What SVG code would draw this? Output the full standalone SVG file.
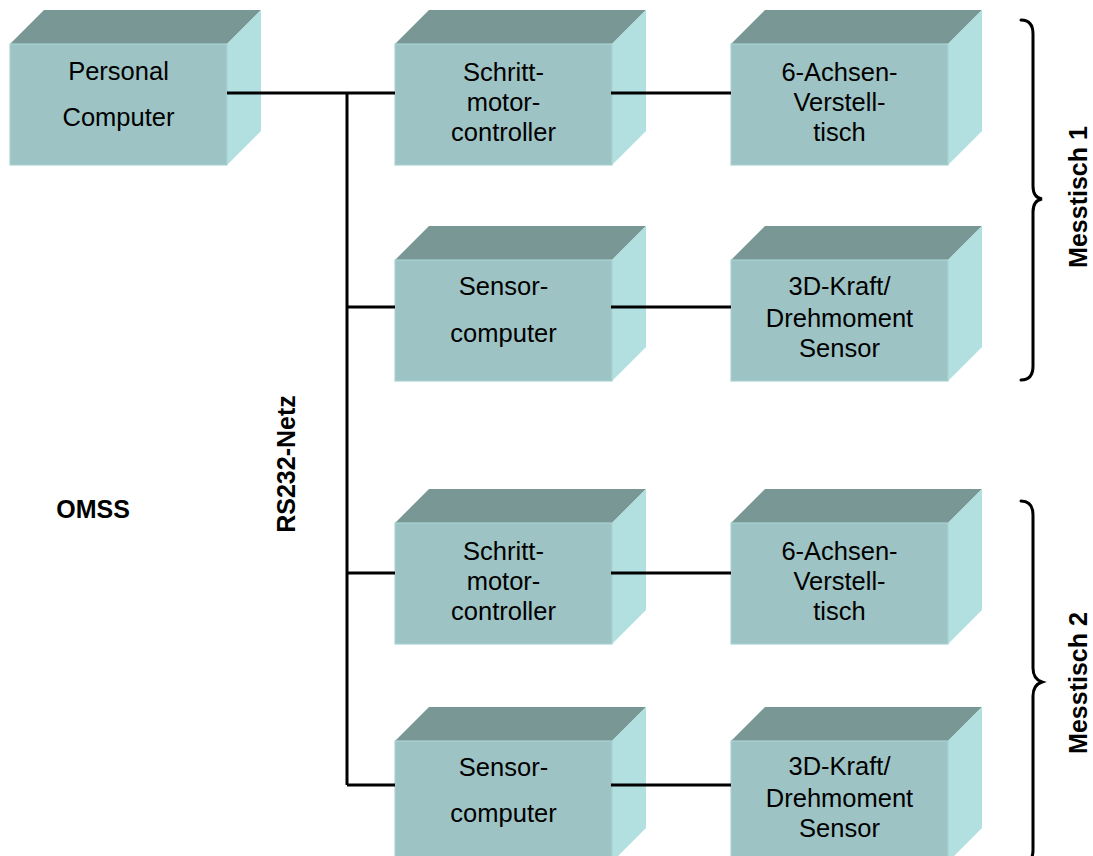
<svg xmlns="http://www.w3.org/2000/svg" width="1093" height="856" viewBox="0 0 1093 856">
<style>
.front{fill:#9dc3c4;stroke:#a9d2d2;stroke-width:1.2}
.top{fill:#799795}
.side{fill:#b2e0e0}
.t{font-family:"Liberation Sans",Arial,sans-serif;font-size:25.5px;fill:#000;text-anchor:middle}
.b{font-family:"Liberation Sans",Arial,sans-serif;font-size:25px;font-weight:bold;fill:#000;text-anchor:middle}
.wire{stroke:#000;stroke-width:3;fill:none}
.brace{stroke:#000;stroke-width:3;fill:none;stroke-linecap:round}
</style>
<defs>
<g id="box">
<polygon class="top" points="0,0 34,-34 251,-34 217,0"/>
<polygon class="side" points="217,0 251,-34 251,87 217,121"/>
<rect class="front" x="0" y="0" width="217" height="121"/>
</g>
</defs>
<rect width="1093" height="856" fill="#fff"/>
<g id="pc">
<use href="#box" x="10" y="44"/>
<text class="t" x="118.5" y="80">Personal</text>
<text class="t" x="118.5" y="126">Computer</text>
</g>
<g id="smc1">
<use href="#box" x="395" y="44"/>
<text class="t" x="503.5" y="81">Schritt-</text>
<text class="t" x="503.5" y="111">motor-</text>
<text class="t" x="503.5" y="141">controller</text>
</g>
<g id="tisch1">
<use href="#box" x="731" y="44"/>
<text class="t" x="839.5" y="81">6-Achsen-</text>
<text class="t" x="839.5" y="111">Verstell-</text>
<text class="t" x="839.5" y="141">tisch</text>
</g>
<g id="sc1">
<use href="#box" x="395" y="260"/>
<text class="t" x="503.5" y="295">Sensor-</text>
<text class="t" x="503.5" y="342">computer</text>
</g>
<g id="sensor1">
<use href="#box" x="731" y="260"/>
<text class="t" x="839.5" y="295">3D-Kraft/</text>
<text class="t" x="839.5" y="327">Drehmoment</text>
<text class="t" x="839.5" y="357">Sensor</text>
</g>
<g id="smc2">
<use href="#box" x="395" y="523"/>
<text class="t" x="503.5" y="560">Schritt-</text>
<text class="t" x="503.5" y="590">motor-</text>
<text class="t" x="503.5" y="620">controller</text>
</g>
<g id="tisch2">
<use href="#box" x="731" y="523"/>
<text class="t" x="839.5" y="560">6-Achsen-</text>
<text class="t" x="839.5" y="590">Verstell-</text>
<text class="t" x="839.5" y="620">tisch</text>
</g>
<g id="sc2">
<use href="#box" x="395" y="741"/>
<text class="t" x="503.5" y="776">Sensor-</text>
<text class="t" x="503.5" y="822">computer</text>
</g>
<g id="sensor2">
<use href="#box" x="731" y="741"/>
<text class="t" x="839.5" y="775">3D-Kraft/</text>
<text class="t" x="839.5" y="807">Drehmoment</text>
<text class="t" x="839.5" y="837">Sensor</text>
</g>
<g id="connectors">
<path class="wire" d="M227,93H395M347,93V785M347,307H395M347,573H395M347,785H395"/>
<path class="wire" d="M611,93H731M611,307H731M611,573H731M611,785H731"/>
</g>
<g id="labels">
<text class="b" x="93" y="518">OMSS</text>
<text class="b" transform="translate(295,464) rotate(-90)">RS232-Netz</text>
<text class="b" transform="translate(1087,197) rotate(-90)">Messtisch 1</text>
<text class="b" transform="translate(1087,683) rotate(-90)">Messtisch 2</text>
</g>
<g id="braces">
<path class="brace" d="M1021,20 C1029,20 1033,25 1033,34 V186 C1033,194 1036,198 1042,199 C1036,200 1033,204 1033,212 V366 C1033,375 1029,380 1021,380"/>
<path class="brace" d="M1021,501 C1029,501 1033,506 1033,515 V668 C1033,676 1036,680 1042,682 C1036,684 1033,688 1033,696 V850 C1033,859 1029,864 1021,864"/>
</g>
</svg>
